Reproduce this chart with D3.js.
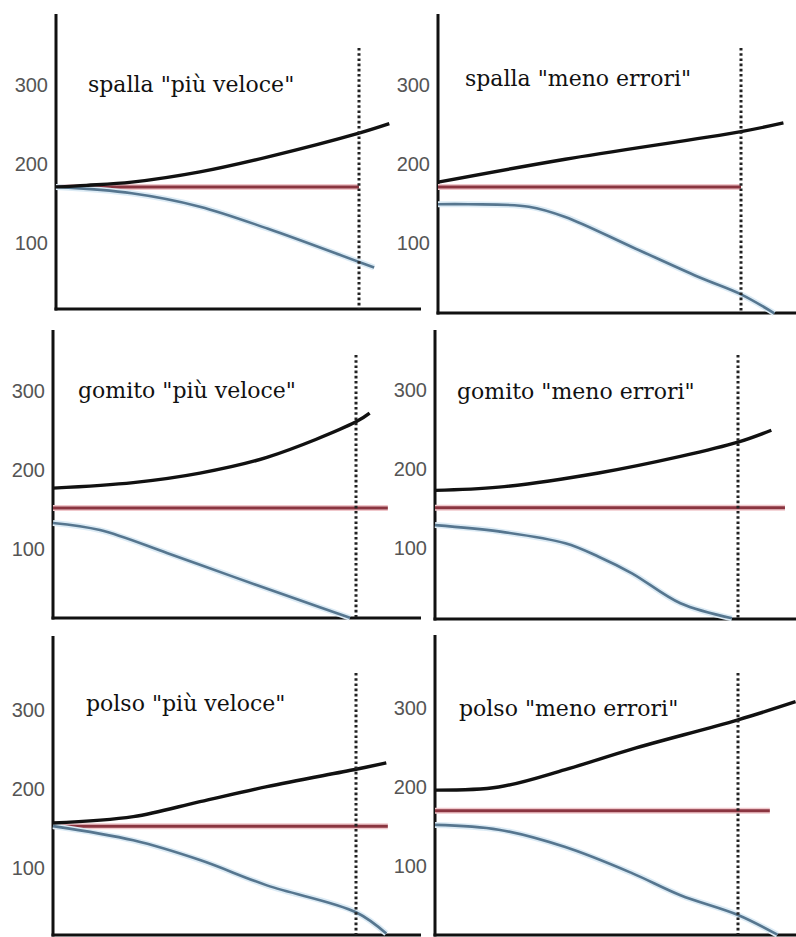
<!DOCTYPE html>
<html>
<head>
<meta charset="utf-8">
<script src="https://cdn.jsdelivr.net/npm/d3@7"></script>
<style>
	html, body { margin: 0; padding: 0; background: #fff; }
	svg { display: block; }
	.tick-label { font-family: "Liberation Sans", Arial, sans-serif; font-size: 20px; fill: #555; }
	.title { font-family: "DejaVu Serif", serif; font-size: 22px; fill: #111; }
</style>
</head>
<body>
<div id="chart"></div>
<script>
var panelTitles = [
	'spalla "più veloce"', 'spalla "meno errori"',
	'gomito "più veloce"', 'gomito "meno errori"',
	'polso "più veloce"', 'polso "meno errori"'
];
var tickValues = [100, 200, 300];
var cutoffX = 10;

// [x, value] pairs, x = 10 is the dotted line
var blackValues = [
	[[0, 171], [1, 173], [2.5, 177], [4.75, 190], [7, 209], [10, 239], [11, 251]],
	[[0, 177], [4.2, 206], [10, 241], [11.4, 252]],
	[[0, 177], [2.65, 184], [4.85, 196], [7.06, 216], [10, 261], [10.45, 272]],
	[[0, 173], [2.1, 177], [5.4, 195], [8.1, 216], [10, 234], [11.1, 249]],
	[[0, 157], [2.65, 165], [4.85, 184], [7.06, 203], [10, 225], [11, 233]],
	[[0, 196], [2.1, 200], [4.3, 222], [6.5, 248], [10, 285], [11.9, 308]]
];
var redValues = [
	[[0, 171], [10, 171]],
	[[0, 171], [10, 171]],
	[[0, 152], [11.05, 152]],
	[[0, 151], [11.55, 151]],
	[[0, 153], [11.05, 153]],
	[[0, 170], [11.05, 170]]
];
var blueValues = [
	[[0, 171], [2.5, 163], [4.75, 146], [7, 118], [10, 76], [10.5, 69]],
	[[0, 149], [1, 149], [3, 146], [4.2, 133], [6.4, 95], [8.6, 57], [10, 35], [11.1, 11]],
	[[0, 133], [1.55, 124], [3.76, 95], [5.94, 65], [8.15, 35], [9.8, 13]],
	[[0, 129], [2.1, 121], [4.3, 106], [5.4, 89], [6.5, 68], [8.1, 30], [9.8, 11]],
	[[0, 153], [2.65, 135], [4.85, 110], [7.06, 78], [10, 44], [11, 17]],
	[[0, 152], [2.1, 146], [4.3, 124], [6.5, 91], [8.1, 63], [10, 38], [11.3, 13]]
];

(function() {
	var width = 796, height = 937;
	var unitPx = 30.3;
	var layout = [
		{ x0: 56, top: 14, y300: 85, bottom: 309, right: 421, dotTop: 48, tx: 88, ty: 92 },
		{ x0: 438, top: 14, y300: 85, bottom: 313, right: 796, dotTop: 48, tx: 465, ty: 86 },
		{ x0: 53, top: 330, y300: 391, bottom: 618, right: 421, dotTop: 355, tx: 78, ty: 398 },
		{ x0: 435, top: 330, y300: 390, bottom: 619, right: 796, dotTop: 355, tx: 457, ty: 399 },
		{ x0: 53, top: 636, y300: 710, bottom: 935, right: 421, dotTop: 673, tx: 86, ty: 711 },
		{ x0: 435, top: 635, y300: 708, bottom: 935, right: 796, dotTop: 673, tx: 459, ty: 716 }
	];

	var svg = d3.select('#chart').append('svg')
		.attr('width', width)
		.attr('height', height);

	layout.forEach(function(p, i) {
		var x = d3.scaleLinear().domain([0, cutoffX]).range([p.x0, p.x0 + cutoffX * unitPx]);
		var y = d3.scaleLinear().domain([100, 300]).range([p.y300 + 158, p.y300]);
		var line = d3.line()
			.x(function(d) { return x(d[0]); })
			.y(function(d) { return y(d[1]); })
			.curve(d3.curveCatmullRom.alpha(0.5));
		var g = svg.append('g').attr('class', 'panel');

		// axes
		g.append('line')
			.attr('x1', p.x0).attr('x2', p.x0)
			.attr('y1', p.top).attr('y2', p.bottom + 1.5)
			.attr('stroke', '#111').attr('stroke-width', 3);
		g.append('line')
			.attr('x1', p.x0 - 1.5).attr('x2', p.right)
			.attr('y1', p.bottom).attr('y2', p.bottom)
			.attr('stroke', '#111').attr('stroke-width', 3);

		g.selectAll('.tick-label')
			.data(tickValues)
			.enter()
			.append('text')
			.attr('class', 'tick-label')
			.attr('x', p.x0 - 8)
			.attr('y', function(d) { return y(d); })
			.attr('text-anchor', 'end')
			.attr('dominant-baseline', 'central')
			.text(function(d) { return d; });

		g.append('text')
			.attr('class', 'title')
			.attr('x', p.tx)
			.attr('y', p.ty)
			.text(panelTitles[i]);

		// red, with a soft halo like the original
		g.append('path').datum(redValues[i])
			.attr('d', line).attr('fill', 'none')
			.attr('stroke', '#f0c8cc').attr('stroke-width', 6);
		g.append('path').datum(redValues[i])
			.attr('d', line).attr('fill', 'none')
			.attr('stroke', '#8a3540').attr('stroke-width', 3);

		g.append('path').datum(blueValues[i])
			.attr('d', line).attr('fill', 'none')
			.attr('stroke', '#dcebf5').attr('stroke-width', 6);
		g.append('path').datum(blueValues[i])
			.attr('d', line).attr('fill', 'none')
			.attr('stroke', '#56768f').attr('stroke-width', 2.6);

		g.append('path').datum(blackValues[i])
			.attr('d', line).attr('fill', 'none')
			.attr('stroke', '#111').attr('stroke-width', 3.4);

		g.append('line')
			.attr('x1', x(cutoffX)).attr('x2', x(cutoffX))
			.attr('y1', p.dotTop).attr('y2', p.bottom)
			.attr('stroke', '#222').attr('stroke-width', 3)
			.attr('stroke-dasharray', '2.6,2.6');
	});
})();
</script>
</body>
</html>
